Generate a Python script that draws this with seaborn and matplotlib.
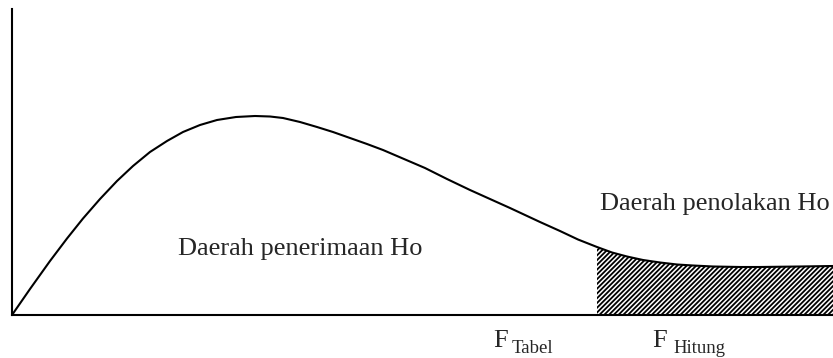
"""
Kurva distribusi F dengan daerah penerimaan dan penolakan Ho
"""

import matplotlib
matplotlib.use("Agg")
import pandas as pd
import seaborn as sns
import matplotlib.pyplot as plt


# nilai kurva (satuan bebas)
curve_x = [0.00, 0.18, 0.38, 0.55, 0.71, 0.88, 1.05, 1.21, 1.38, 1.55,
           1.71, 1.88, 2.05, 2.24, 2.43, 2.58, 2.71, 2.88, 3.05, 3.21,
           3.38, 3.55, 3.71, 3.92, 4.13, 4.35, 4.58, 4.78, 4.98, 5.13,
           5.28, 5.48, 5.66, 5.85, 6.00, 6.15, 6.31, 6.48, 6.65, 6.81,
           7.01, 7.28, 7.48, 7.88, 8.21]
curve_y = [0.00, 0.26, 0.54, 0.765, 0.965, 1.16, 1.34, 1.49, 1.63, 1.74,
           1.83, 1.90, 1.95, 1.98, 1.99, 1.985, 1.97, 1.93, 1.88, 1.83,
           1.77, 1.71, 1.65, 1.56, 1.47, 1.36, 1.25, 1.16, 1.07, 1.00,
           0.93, 0.84, 0.755, 0.68, 0.625, 0.585, 0.55, 0.525, 0.505, 0.495,
           0.485, 0.48, 0.48, 0.485, 0.49]

f_tabel = 5.85
x_max = 8.21
y_max = 3.06

accept_label = "Daerah penerimaan Ho"
reject_label = "Daerah penolakan Ho"
tabel_label = "Tabel"
hitung_label = "Hitung"


def draw_curve(ax, data):
    """
    Plots the density curve and hatches the rejection area
    to the right of F tabel.
    """
    sns.lineplot(data=data, x="x", y="y", ax=ax, color="black",
                 linewidth=1.5, sort=False)
    ax.lines[-1].set_solid_joinstyle("round")
    # only the tail past F tabel is shaded
    tail = data[data["x"] >= f_tabel]
    ax.fill_between(tail["x"], 0, tail["y"], facecolor="white",
                    edgecolor="black", hatch="///////", linewidth=0)


def draw_labels(ax):
    """
    Writes the region names and the F labels under the axis.
    """
    ax.text(1.66, 0.60, accept_label, fontsize=19, va="baseline")
    ax.text(5.88, 1.05, reject_label, fontsize=19, va="baseline")
    # F with subscript, written as two texts
    ax.text(4.81, -0.32, "F", fontsize=19, va="baseline", clip_on=False)
    ax.text(5.00, -0.38, tabel_label, fontsize=13.5, va="baseline",
            clip_on=False)
    ax.text(6.40, -0.32, "F", fontsize=19, va="baseline", clip_on=False)
    ax.text(6.61, -0.38, hitung_label, fontsize=13.5, va="baseline",
            clip_on=False)


def main():
    sns.set_style("white")
    plt.rcParams["font.family"] = ["Liberation Serif", "DejaVu Serif"]
    plt.rcParams["hatch.linewidth"] = 1.3

    data = pd.DataFrame({"x": curve_x, "y": curve_y})

    fig = plt.figure(figsize=(8.33, 3.58), dpi=100)
    ax = fig.add_axes([12 / 833, 43 / 358, 821 / 833, 306 / 358])
    draw_curve(ax, data)
    draw_labels(ax)

    ax.set_xlim(0, x_max)
    ax.set_ylim(0, y_max)
    ax.set_xticks([])
    ax.set_yticks([])
    ax.set_xlabel("")
    ax.set_ylabel("")
    for side in ["top", "right"]:
        ax.spines[side].set_visible(False)
    for side in ["left", "bottom"]:
        ax.spines[side].set_color("black")
        ax.spines[side].set_linewidth(1.5)

    plt.savefig("out.png", dpi=100)


if __name__ == "__main__":
    main()
